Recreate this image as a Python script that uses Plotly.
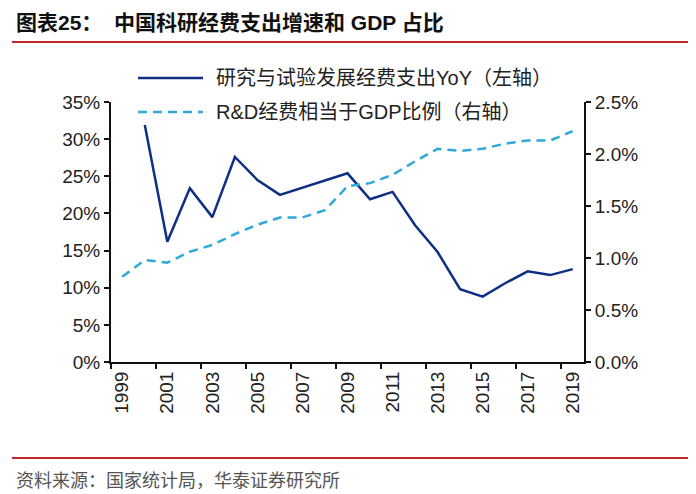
"""China R&D spending growth and share of GDP."""

import plotly.graph_objects as go

years = [str(y) for y in range(1999, 2020)]

# R&D spending YoY (%), left axis; no value for 1999
rd_yoy = [None, 31.9, 16.2, 23.4, 19.5, 27.6, 24.5, 22.5, 23.5, 24.4, 25.4,
          21.9, 22.9, 18.4, 14.8, 9.8, 8.8, 10.6, 12.2, 11.7, 12.5]

# R&D spending as share of GDP (%), right axis
rd_gdp = [0.82, 0.98, 0.955, 1.06, 1.125, 1.23, 1.32, 1.39, 1.39, 1.46, 1.69,
          1.72, 1.80, 1.93, 2.05, 2.03, 2.05, 2.10, 2.13, 2.13, 2.22]

left_ticks = [0, 5, 10, 15, 20, 25, 30, 35]
right_ticks = [0.0, 0.5, 1.0, 1.5, 2.0, 2.5]

NAVY = "#0F2F85"
CYAN = "#2FA9D6"
RED = "#C0282D"
FONT = "Liberation Sans, Arial, Noto Sans CJK SC, sans-serif"

# page body adds an 8px margin, so the figure is 8px smaller each way
OFF = 8
W, H = 696 - OFF, 494 - OFF
L, R, T, B = 111 - OFF, 112, 102 - OFF, 132


def px(x):
    # page pixel -> paper coordinate
    return (x - OFF - L) / (W - L - R)


def py(y):
    return (H - B - (y - OFF)) / (H - B - T)


fig = go.Figure()
fig.add_trace(go.Scatter(
    x=years, y=rd_yoy, mode="lines", name="研究与试验发展经费支出YoY（左轴）",
    line=dict(color=NAVY, width=2.5), connectgaps=False,
))
fig.add_trace(go.Scatter(
    x=years, y=rd_gdp, mode="lines", name="R&D经费相当于GDP比例（右轴）",
    line=dict(color=CYAN, width=2.5, dash="9px,6px"), yaxis="y2",
))

axis_common = dict(
    showgrid=False, zeroline=False, showline=True, linecolor="#111", linewidth=2,
    ticks="outside", ticklen=5, tickwidth=2, tickcolor="#111",
    tickfont=dict(family=FONT, size=19, color="#222"),
)

fig.update_layout(
    width=W, height=H,
    margin=dict(l=L, r=R, t=T, b=B),
    paper_bgcolor="white", plot_bgcolor="white",
    showlegend=False,
    xaxis=dict(
        **axis_common, type="category", tickson="boundaries", dtick=2,
        tickangle=-90, range=[-0.5, len(years) - 0.5],
    ),
    yaxis=dict(
        **axis_common, range=[0, 35], tickvals=left_ticks,
        ticktext=[f"{v}%" for v in left_ticks],
    ),
    yaxis2=dict(
        **axis_common, overlaying="y", side="right", range=[0, 2.5],
        tickvals=right_ticks, ticktext=[f"{v:.1f}%" for v in right_ticks],
    ),
)

# hand-drawn legend so the sample lines are as long as in the original
legend_rows = [
    (78, NAVY, "solid", fig.data[0].name),
    (112, CYAN, "9px,6px", fig.data[1].name),
]
for y, color, dash, label in legend_rows:
    fig.add_shape(type="line", xref="paper", yref="paper",
                  x0=px(138), x1=px(203), y0=py(y), y1=py(y),
                  line=dict(color=color, width=2.5, dash=dash))
    fig.add_annotation(x=px(214), y=py(y), xref="paper", yref="paper",
                       text=label, showarrow=False, xanchor="left", yanchor="middle",
                       font=dict(family=FONT, size=20, color="#222"))

# title and source
fig.add_annotation(x=px(14), y=py(22), xref="paper", yref="paper",
                   text="<b>图表25：  中国科研经费支出增速和 GDP 占比</b>",
                   showarrow=False, xanchor="left", yanchor="middle",
                   font=dict(family=FONT, size=21, color="#111"))
fig.add_annotation(x=px(14), y=py(481), xref="paper", yref="paper",
                   text="资料来源：国家统计局，华泰证券研究所",
                   showarrow=False, xanchor="left", yanchor="middle",
                   font=dict(family=FONT, size=18, color="#555"))
for y in (42, 458):
    fig.add_shape(type="line", xref="paper", yref="paper",
                  x0=px(12), x1=px(690), y0=py(y), y1=py(y),
                  line=dict(color=RED, width=2))

fig.write_html("out.html")
